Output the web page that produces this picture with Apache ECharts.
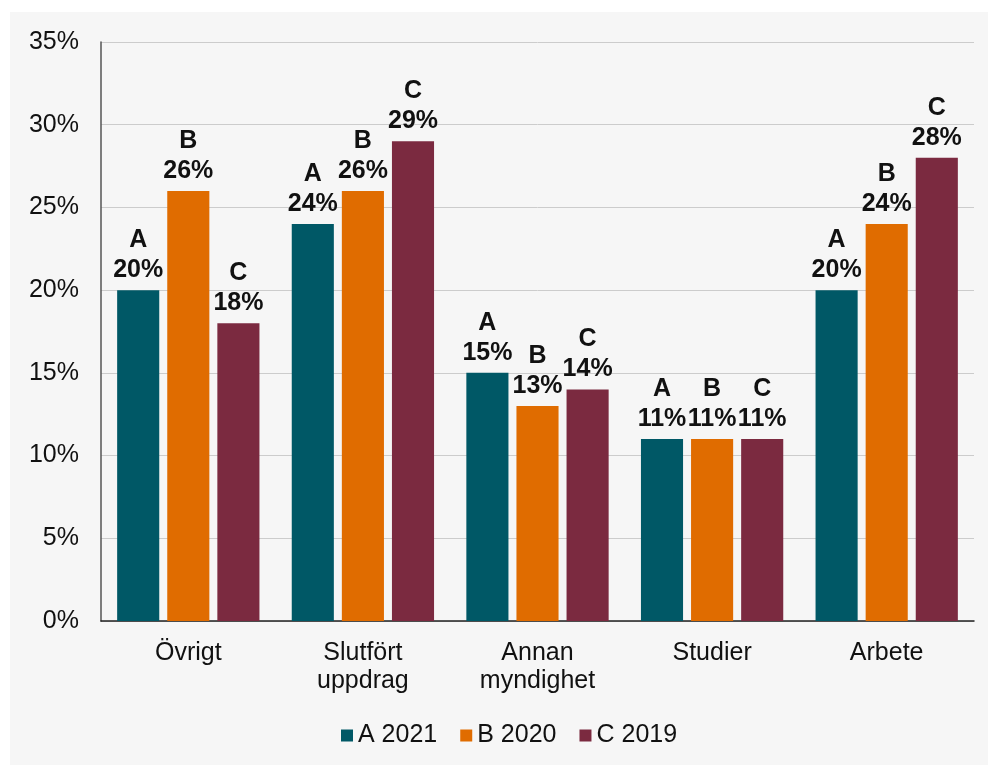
<!DOCTYPE html>
<html>
<head>
<meta charset="utf-8">
<script src="https://cdn.jsdelivr.net/npm/echarts@6/dist/echarts.min.js"></script>
<style>
  html, body { margin: 0; padding: 0; background: #ffffff; }
  #chart1 { position: absolute; left: 10px; top: 12px; width: 978px; height: 753px; background: #f6f6f6; }
</style>
</head>
<body>
<div id="chart1"></div>
<script>
const categories = ['Övrigt', 'Slutfört\nuppdrag', 'Annan\nmyndighet', 'Studier', 'Arbete'];
const seriesNames = ['A 2021', 'B 2020', 'C 2019'];
const seriesLetters = ['A', 'B', 'C'];
const valuesA = [20, 24, 15, 11, 20];
const valuesB = [26, 26, 13, 11, 24];
const valuesC = [18, 29, 14, 11, 28];
const yTicks = [0, 5, 10, 15, 20, 25, 30, 35];
const colors = ['#005866', '#e06c00', '#7b2a40'];

var myChart1 = echarts.init(document.getElementById('chart1'));

function makeSeries(idx, data) {
    return {
        name: seriesNames[idx],
        type: 'bar',
        data: data,
        barGap: '19%',
        barCategoryGap: '18.5%',
        itemStyle: { color: colors[idx] },
        label: {
            show: true,
            position: 'top',
            distance: 5,
            color: '#111',
            fontFamily: 'Liberation Sans',
            fontWeight: 'bold',
            fontSize: 25,
            lineHeight: 30,
            formatter: function (p) {
                return seriesLetters[idx] + '\n' + p.value + '%';
            }
        }
    };
}

var option = {
    color: colors,
    textStyle: { fontFamily: 'Liberation Sans' },
    grid: {
        left: 91,
        right: 14,
        top: 30,
        bottom: 144,
        containLabel: false
    },
    legend: {
        data: seriesNames,
        top: 706,
        left: 326,
        itemWidth: 12,
        itemHeight: 12,
        itemGap: 23,
        icon: 'rect',
        textStyle: { fontSize: 25, color: '#111', fontFamily: 'Liberation Sans' }
    },
    xAxis: {
        type: 'category',
        data: categories,
        axisLine: { show: true, lineStyle: { color: '#222', width: 1.5 } },
        axisTick: { show: false },
        axisLabel: {
            fontSize: 25,
            color: '#111',
            lineHeight: 28,
            margin: 18
        }
    },
    yAxis: {
        type: 'value',
        min: 0,
        max: 35,
        interval: 5,
        axisLine: { show: true, lineStyle: { color: '#555', width: 1.5 } },
        axisTick: { show: false },
        splitLine: { lineStyle: { color: '#cccccc', width: 1 } },
        axisLabel: {
            fontSize: 25,
            color: '#111',
            margin: 22,
            formatter: function (v) {
                return yTicks.indexOf(v) >= 0 ? v + '%' : '';
            }
        }
    },
    series: [
        makeSeries(0, valuesA),
        makeSeries(1, valuesB),
        makeSeries(2, valuesC)
    ]
};

myChart1.setOption(option);
</script>
</body>
</html>
